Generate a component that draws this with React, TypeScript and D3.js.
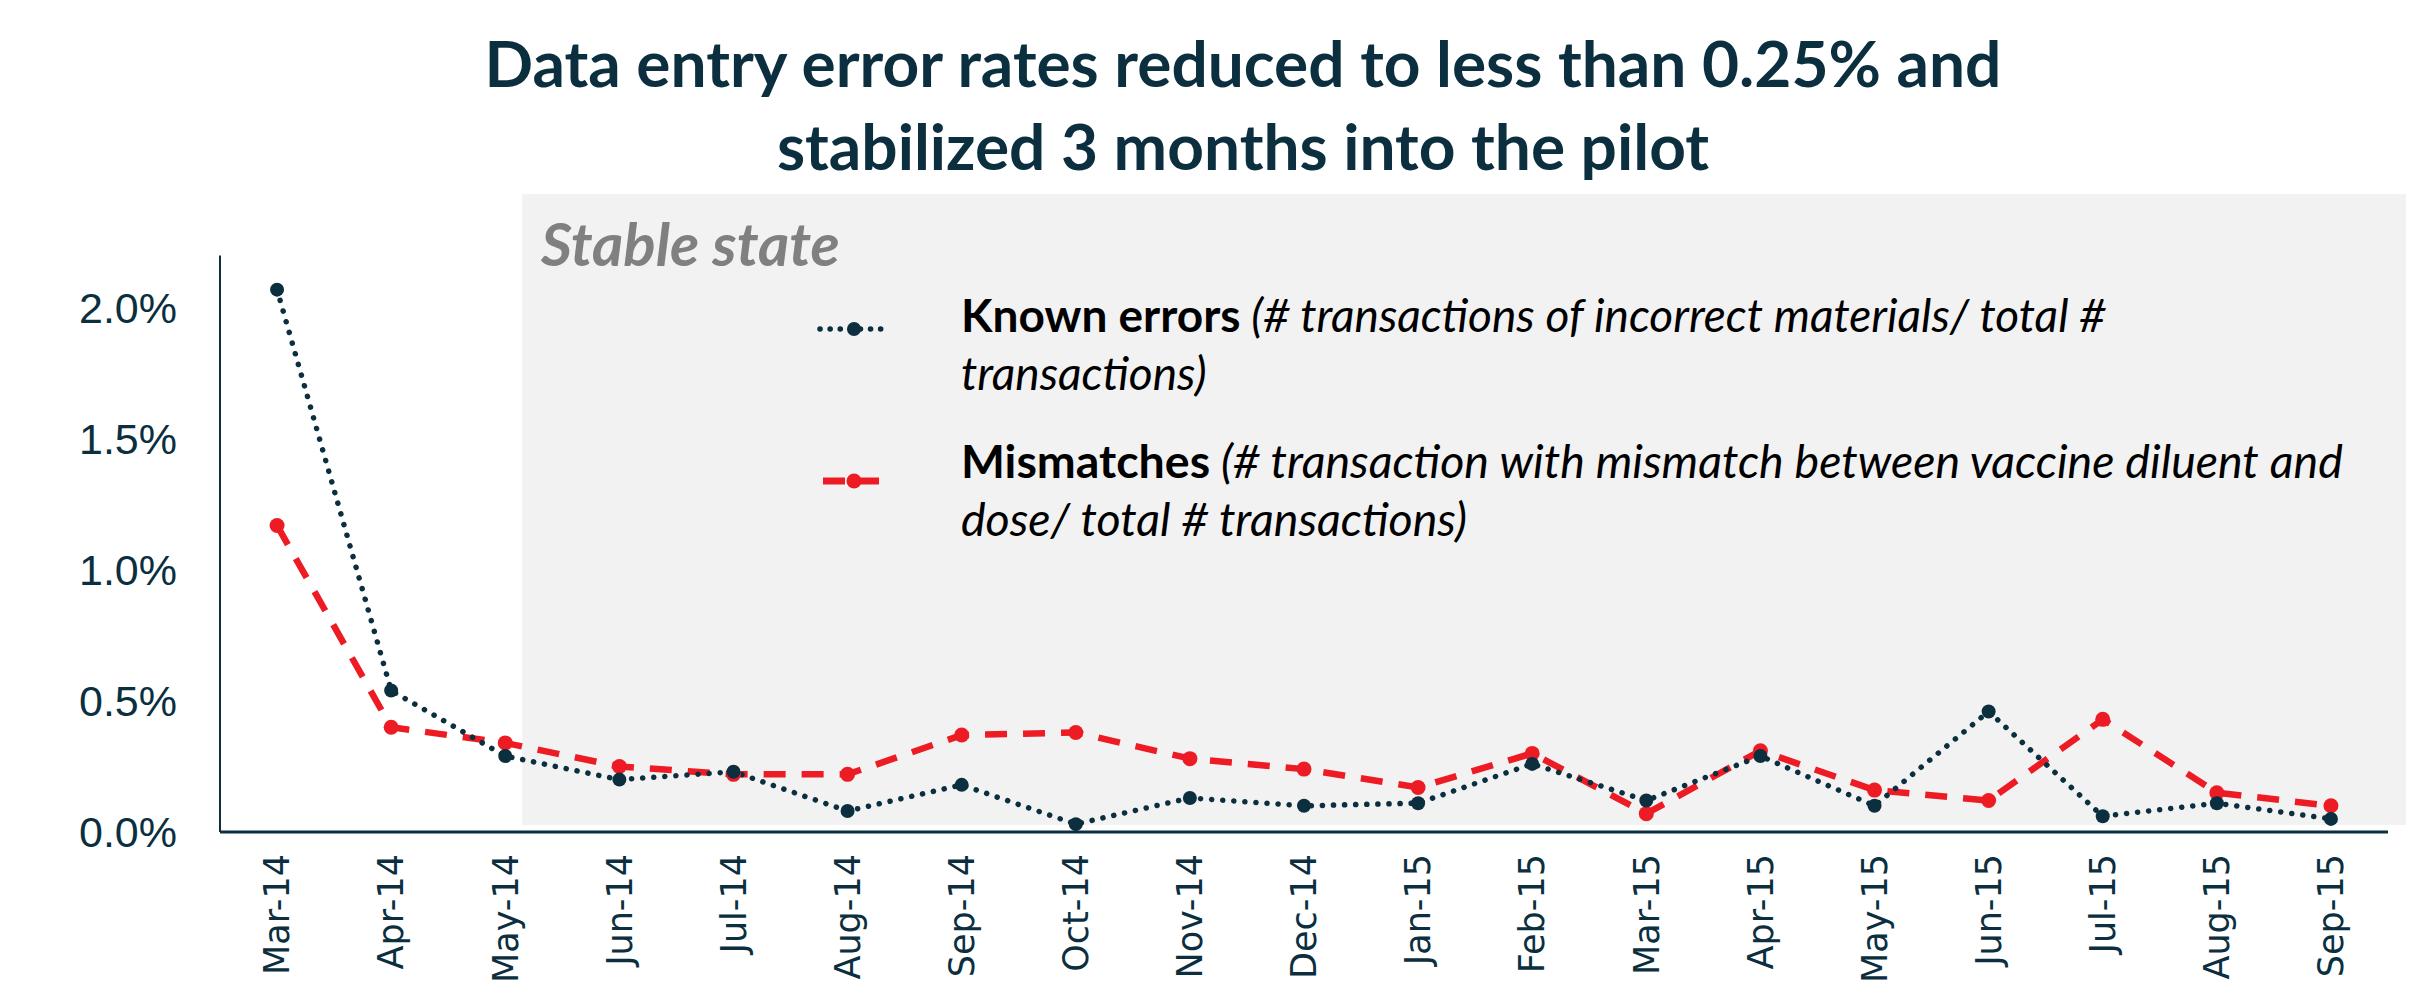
import React from 'react';
import * as d3 from 'd3';

// months on the x axis
const months = [
  'Mar-14', 'Apr-14', 'May-14', 'Jun-14', 'Jul-14', 'Aug-14', 'Sep-14', 'Oct-14', 'Nov-14', 'Dec-14',
  'Jan-15', 'Feb-15', 'Mar-15', 'Apr-15', 'May-15', 'Jun-15', 'Jul-15', 'Aug-15', 'Sep-15',
];

// error rates in percent
const knownErrors = [2.07, 0.54, 0.29, 0.2, 0.23, 0.08, 0.18, 0.03, 0.13, 0.1, 0.11, 0.26, 0.12, 0.29, 0.1, 0.46, 0.06, 0.11, 0.05];
const mismatches = [1.17, 0.4, 0.34, 0.25, 0.22, 0.22, 0.37, 0.38, 0.28, 0.24, 0.17, 0.3, 0.07, 0.31, 0.16, 0.12, 0.43, 0.15, 0.1];

const yTicks = [0, 0.5, 1.0, 1.5, 2.0];

const stableFrom = 'May-14';

const dark = '#0b2f3f';
const red = '#ed1c24';

const App = () => {
  const width = 2412;
  const height = 988;
  const left = 220;
  const right = 2388;
  const bottom = 832;

  // scales
  const x = d3.scaleBand().domain(months).range([left, right]).padding(0);
  const cx = (m: string) => (x(m) as number) + x.bandwidth() / 2;
  const y = d3.scaleLinear().domain([0, 2.2]).range([bottom, bottom - 2.2 * 262]);

  const line = d3.line<number>()
    .x((_, i) => cx(months[i]))
    .y(d => y(d));

  const fmt = d3.format('.1f');
  const shadeX = cx(stableFrom) + 17;

  return (
    <svg width={width} height={height} style={{ position: 'absolute', left: 0, top: 0 }}>
      {/* title */}
      <text x={1243} y={87} textAnchor="middle" fontFamily="Lato" fontWeight="bold" fontSize={64} fill={dark}>
        Data entry error rates reduced to less than 0.25% and
      </text>
      <text x={1243} y={170} textAnchor="middle" fontFamily="Lato" fontWeight="bold" fontSize={64} fill={dark}>
        stabilized 3 months into the pilot
      </text>

      {/* stable state shading */}
      <rect x={shadeX} y={194} width={2406 - shadeX} height={825 - 194} fill="#f2f2f2" />
      <text x={541} y={266} fontFamily="Lato" fontWeight="bold" fontStyle="italic" fontSize={60} fill="#808080">
        Stable state
      </text>

      {/* legend */}
      <g>
        <line x1={820} x2={888} y1={329} y2={329} stroke={dark} strokeWidth={5.5} strokeDasharray="0.1 10" strokeLinecap="round" />
        <circle cx={854} cy={329} r={7} fill={dark} />
        <text x={961} y={332} fontFamily="Lato" fontSize={46} fill="#000">
          <tspan fontWeight="bold">Known errors</tspan>
          <tspan fontStyle="italic"> (# transactions of incorrect materials/ total #</tspan>
          <tspan x={961} dy={58} fontStyle="italic">transactions)</tspan>
        </text>
        <line x1={820} x2={888} y1={481} y2={481} stroke={red} strokeWidth={7} strokeDasharray="22 12" strokeDashoffset={-3} />
        <circle cx={854} cy={481} r={7.5} fill={red} />
        <text x={961} y={478} fontFamily="Lato" fontSize={46.5} fill="#000">
          <tspan fontWeight="bold">Mismatches</tspan>
          <tspan fontStyle="italic"> (# transaction with mismatch between vaccine diluent and</tspan>
          <tspan x={961} dy={58} fontStyle="italic">dose/ total # transactions)</tspan>
        </text>
      </g>

      {/* axes */}
      <line x1={left} x2={left} y1={y(2.2)} y2={bottom} stroke={dark} strokeWidth={2} />
      <line x1={left} x2={right} y1={bottom} y2={bottom} stroke={dark} strokeWidth={3} />
      {yTicks.map(t => (
        <text key={t} x={177} y={y(t)} dy="0.35em" textAnchor="end" fontFamily="Liberation Sans" fontSize={43} fill={dark}>
          {fmt(t)}%
        </text>
      ))}
      {months.map(m => (
        <text
          key={m}
          transform={`translate(${cx(m)},854) rotate(-90)`}
          dy="0.35em"
          textAnchor="end"
          fontFamily="DejaVu Sans"
          fontSize={35}
          fill={dark}
        >
          {m}
        </text>
      ))}

      {/* series */}
      <path d={line(mismatches) as string} fill="none" stroke={red} strokeWidth={6.5} strokeDasharray="22 16" />
      <path d={line(knownErrors) as string} fill="none" stroke={dark} strokeWidth={5.5} strokeDasharray="0.1 11" strokeLinecap="round" />
      {mismatches.map((d, i) => (
        <circle key={'m' + i} cx={cx(months[i])} cy={y(d)} r={7.5} fill={red} />
      ))}
      {knownErrors.map((d, i) => (
        <circle key={'k' + i} cx={cx(months[i])} cy={y(d)} r={7} fill={dark} />
      ))}
    </svg>
  );
};

export default App;
